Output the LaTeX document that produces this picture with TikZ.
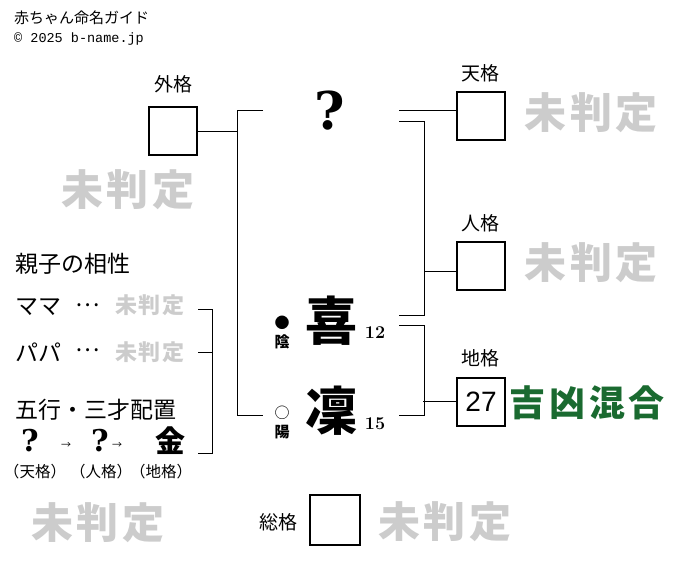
\documentclass[tikz,border=0pt]{standalone}
\usepackage{fontspec}
\usepackage{tikz}
\newfontfamily\jp{Noto Sans CJK JP}
\newfontfamily\mono{Liberation Mono}
\newfontfamily\arial{Liberation Sans}
\newfontfamily\serifb{DejaVu Serif}
\definecolor{mihantei}{RGB}{204,204,204}
\definecolor{kyogreen}{RGB}{26,106,48}
\newcommand\mihan[1]{未\kern#1判\kern#1定}
\tikzset{kaku/.style = {shape=rectangle,draw,line width=2pt,minimum size=48pt,inner sep=0pt}}
\tikzset{edge/.style = {-,line width=1pt}}
\tikzset{hantei/.style = {text=mihantei,font=\jp\bfseries\fontsize{42}{42}\selectfont}}
\tikzset{kakuname/.style = {font=\jp\fontsize{19}{19}\selectfont}}
\tikzset{title/.style = {anchor=west,inner sep=0pt,font=\jp\fontsize{23}{23}\selectfont}}
\tikzset{moji/.style = {font=\jp\bfseries\fontsize{52}{52}\selectfont}}
\tikzset{hatena/.style = {font=\serifb\bfseries\fontsize{#1}{#1}\selectfont}}

\begin{document}
\begin{tikzpicture}[x=1pt,y=-1pt]
\useasboundingbox (0,0) rectangle (676,562);
% header
\node[anchor=west,inner sep=0pt,font=\jp\fontsize{15}{15}\selectfont] (head) at (14,18) {赤ちゃん命名ガイド};
\node[anchor=west,inner sep=0pt,font=\mono\fontsize{13.5}{13.5}\selectfont] (copy) at (14,39) {© 2025 b-name.jp};
% boxes
\node[kaku] (gaibox) at (172.5,131) {};
\node[kaku] (tenbox) at (481,116) {};
\node[kaku] (jinbox) at (481,266) {};
\node[kaku,font=\arial\fontsize{28}{28}\selectfont] (chibox) at (481,401.5) {27};
\node[kaku,minimum size=50pt] (soubox) at (335,520) {};
% box labels
\node[kakuname] (gai) at (173,84) {外格};
\node[kakuname] (ten) at (480,73) {天格};
\node[kakuname] (jin) at (480,223) {人格};
\node[kakuname] (chi) at (480,358) {地格};
\node[kakuname] (sou) at (278,522) {総格};
% results
\node[hantei] (gaiH) at (128,190) {\mihan{4pt}};
\node[hantei] (tenH) at (591,113) {\mihan{4pt}};
\node[hantei] (jinH) at (591,263) {\mihan{4pt}};
\node[hantei] (souH) at (445,522) {\mihan{4pt}};
\node[hantei] (extraH) at (98,523) {\mihan{4pt}};
\node[text=kyogreen,font=\jp\bfseries\fontsize{36}{36}\selectfont] (chiH) at (587,403) {吉\kern4pt凶\kern4pt混\kern4pt合};
% name
\node[hatena=52] (q) at (330,111) {?};
\node[moji] (ki) at (331,321) {喜};
\node[moji] (rin) at (331,411) {凜};
\node[font=\bfseries\fontsize{18}{18}\selectfont] (kiN) at (375,333) {12};
\node[font=\bfseries\fontsize{18}{18}\selectfont] (rinN) at (375,424) {15};
\node[font=\jp\fontsize{15}{15}\selectfont] (kiM) at (282,323) {●};
\node[font=\jp\bfseries\fontsize{15}{15}\selectfont] (kiY) at (282,342) {陰};
\node[font=\jp\fontsize{15}{15}\selectfont] (rinM) at (282,413) {○};
\node[font=\jp\bfseries\fontsize{15}{15}\selectfont] (rinY) at (282,432) {陽};
% bracket ends
\coordinate (qL) at (263,110);
\coordinate (rinL) at (263,415);
\coordinate (qR1) at (399,110);
\coordinate (qR2) at (399,121);
\coordinate (kiR1) at (399,315);
\coordinate (kiR2) at (399,325);
\coordinate (rinR) at (399,415);
%edges
\draw[edge] (qL) -- ++(-26,0) |- (rinL);
\draw[edge] (gaibox.east) -- ++(40,0);
\draw[edge] (qR1) -- (qR1 -| tenbox.west);
\draw[edge] (qR2) -- ++(25,0) |- (kiR1);
\draw[edge] (424,271) -- (jinbox.west |- 0,271);
\draw[edge] (kiR2) -- ++(25,0) |- (rinR);
\draw[edge] (chibox.west) -- ++(-33,0);
% compatibility
\node[title] (aisho) at (15,264) {親子の相性};
\node[title] (mama) at (15,307) {ママ};
\node[title] (papa) at (15,352) {パパ};
\node[font=\jp\fontsize{23}{23}\selectfont] (mamaD) at (88,305) {⋯};
\node[font=\jp\fontsize{23}{23}\selectfont] (papaD) at (88,350) {⋯};
\node[hantei,font=\jp\bfseries\fontsize{22}{22}\selectfont] (mamaH) at (150,305) {\mihan{2pt}};
\node[hantei,font=\jp\bfseries\fontsize{22}{22}\selectfont] (papaH) at (150,352) {\mihan{2pt}};
\node[title] (gogyo) at (15,410) {五行・三才配置};
\node[hatena=30] (q1) at (30,441) {?};
\node[font=\jp\fontsize{10}{10}\selectfont] (a1) at (66,445) {→};
\node[hatena=30] (q2) at (100,441) {?};
\node[font=\jp\fontsize{10}{10}\selectfont] (a2) at (117,445) {→};
\node[font=\jp\bfseries\fontsize{30}{30}\selectfont] (kin) at (170,441) {金};
\node[font=\jp\fontsize{15.5}{15.5}\selectfont] (t1) at (35,472) {（天格）};
\node[font=\jp\fontsize{15.5}{15.5}\selectfont] (t2) at (101,472) {（人格）};
\node[font=\jp\fontsize{15.5}{15.5}\selectfont] (t3) at (161,472) {（地格）};
\coordinate (m1) at (198,309);
\coordinate (p1) at (198,352);
\coordinate (g1) at (198,453);
\draw[edge] (m1) -- ++(14,0) |- (g1);
\draw[edge] (p1) -- ++(14,0);
\end{tikzpicture}
\end{document}
